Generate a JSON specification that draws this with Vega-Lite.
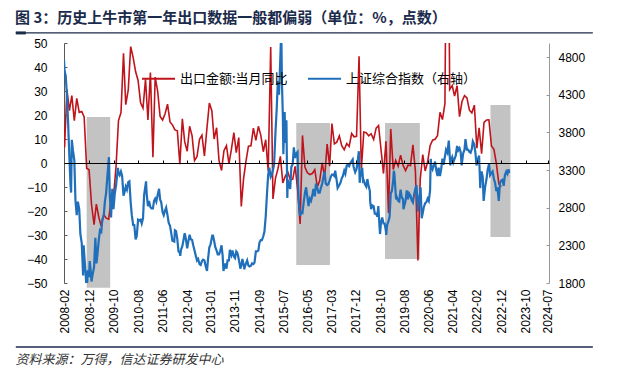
{
"$schema": "https://vega.github.io/schema/vega-lite/v6.json",
"width": 485,
"height": 240,
"autosize": {"type": "none"},
"padding": {"left": 64, "top": 43, "right": 86, "bottom": 89},
"background": "white",
"config": {"view": {"stroke": null}, "font": "Liberation Sans"},
"title": {"text": "图 3：历史上牛市第一年出口数据一般都偏弱（单位：%，点数）", "anchor": "start", "frame": "group", "font": "Noto Sans CJK SC", "fontSize": 15, "fontWeight": "bold", "color": "#1b2b4b", "dx": -49, "offset": 5},
"datasets": {
"bull": [
{"start": "2008-11-01", "end": "2009-08-20", "lo": -52, "hi": 19.2},
{"start": "2015-12-15", "end": "2017-02-05", "lo": -42.5, "hi": 16.7},
{"start": "2018-12-20", "end": "2020-02-25", "lo": -40, "hi": 16.7},
{"start": "2022-07-20", "end": "2023-03-25", "lo": -30.8, "hi": 24.2}
],
"exp": [
{"d":"2008-01-01","v":26.6},{"d":"2008-02-01","v":6.5},{"d":"2008-03-01","v":30.6},{"d":"2008-04-01","v":21.8},{"d":"2008-05-01","v":28.1},{"d":"2008-06-01","v":17.6},{"d":"2008-07-01","v":26.9},{"d":"2008-08-01","v":21.1},{"d":"2008-09-01","v":21.5},{"d":"2008-10-01","v":19.2},{"d":"2008-11-01","v":-2.2},{"d":"2008-12-01","v":-2.8},
{"d":"2009-01-01","v":-17.5},{"d":"2009-02-01","v":-25.7},{"d":"2009-03-01","v":-17.1},{"d":"2009-04-01","v":-22.6},{"d":"2009-05-01","v":-26.4},{"d":"2009-06-01","v":-21.4},{"d":"2009-07-01","v":-23.0},{"d":"2009-08-01","v":-23.4},{"d":"2009-09-01","v":-15.2},{"d":"2009-10-01","v":-13.8},{"d":"2009-11-01","v":-1.2},{"d":"2009-12-01","v":17.7},
{"d":"2010-01-01","v":21.0},{"d":"2010-02-01","v":45.7},{"d":"2010-03-01","v":24.3},{"d":"2010-04-01","v":30.5},{"d":"2010-05-01","v":48.5},{"d":"2010-06-01","v":43.9},{"d":"2010-07-01","v":38.1},{"d":"2010-08-01","v":34.4},{"d":"2010-09-01","v":25.1},{"d":"2010-10-01","v":22.9},{"d":"2010-11-01","v":34.9},{"d":"2010-12-01","v":17.9},
{"d":"2011-01-01","v":37.7},{"d":"2011-02-01","v":2.4},{"d":"2011-03-01","v":35.8},{"d":"2011-04-01","v":29.9},{"d":"2011-05-01","v":19.4},{"d":"2011-06-01","v":17.9},{"d":"2011-07-01","v":20.4},{"d":"2011-08-01","v":24.5},{"d":"2011-09-01","v":17.1},{"d":"2011-10-01","v":15.9},{"d":"2011-11-01","v":13.8},{"d":"2011-12-01","v":13.4},
{"d":"2012-01-01","v":-0.5},{"d":"2012-02-01","v":18.4},{"d":"2012-03-01","v":8.9},{"d":"2012-04-01","v":4.9},{"d":"2012-05-01","v":15.3},{"d":"2012-06-01","v":11.3},{"d":"2012-07-01","v":1.0},{"d":"2012-08-01","v":2.7},{"d":"2012-09-01","v":9.9},{"d":"2012-10-01","v":11.6},{"d":"2012-11-01","v":2.9},{"d":"2012-12-01","v":14.1},
{"d":"2013-01-01","v":25.0},{"d":"2013-02-01","v":21.8},{"d":"2013-03-01","v":10.0},{"d":"2013-04-01","v":14.7},{"d":"2013-05-01","v":1.0},{"d":"2013-06-01","v":-3.1},{"d":"2013-07-01","v":5.1},{"d":"2013-08-01","v":7.2},{"d":"2013-09-01","v":-0.3},{"d":"2013-10-01","v":5.6},{"d":"2013-11-01","v":12.7},{"d":"2013-12-01","v":4.3},
{"d":"2014-01-01","v":10.6},{"d":"2014-02-01","v":-18.1},{"d":"2014-03-01","v":-6.6},{"d":"2014-04-01","v":0.9},{"d":"2014-05-01","v":7.0},{"d":"2014-06-01","v":7.2},{"d":"2014-07-01","v":14.5},{"d":"2014-08-01","v":9.4},{"d":"2014-09-01","v":15.3},{"d":"2014-10-01","v":11.6},{"d":"2014-11-01","v":4.7},{"d":"2014-12-01","v":9.7},
{"d":"2015-01-01","v":-3.3},{"d":"2015-02-01","v":48.3},{"d":"2015-03-01","v":-15.0},{"d":"2015-04-01","v":-6.4},{"d":"2015-05-01","v":-2.5},{"d":"2015-06-01","v":2.8},{"d":"2015-07-01","v":-8.3},{"d":"2015-08-01","v":-5.5},{"d":"2015-09-01","v":-3.7},{"d":"2015-10-01","v":-6.9},{"d":"2015-11-01","v":-6.8},{"d":"2015-12-01","v":-1.4},
{"d":"2016-01-01","v":-11.2},{"d":"2016-02-01","v":-25.4},{"d":"2016-03-01","v":11.5},{"d":"2016-04-01","v":-1.8},{"d":"2016-05-01","v":-4.1},{"d":"2016-06-01","v":-4.8},{"d":"2016-07-01","v":-4.4},{"d":"2016-08-01","v":-2.8},{"d":"2016-09-01","v":-10.0},{"d":"2016-10-01","v":-7.3},{"d":"2016-11-01","v":0.1},{"d":"2016-12-01","v":-6.1},
{"d":"2017-01-01","v":7.9},{"d":"2017-02-01","v":-1.3},{"d":"2017-03-01","v":16.4},{"d":"2017-04-01","v":8.0},{"d":"2017-05-01","v":8.7},{"d":"2017-06-01","v":11.3},{"d":"2017-07-01","v":7.2},{"d":"2017-08-01","v":5.5},{"d":"2017-09-01","v":8.1},{"d":"2017-10-01","v":6.9},{"d":"2017-11-01","v":12.3},{"d":"2017-12-01","v":10.9},
{"d":"2018-01-01","v":11.1},{"d":"2018-02-01","v":44.5},{"d":"2018-03-01","v":-2.7},{"d":"2018-04-01","v":12.9},{"d":"2018-05-01","v":12.6},{"d":"2018-06-01","v":11.3},{"d":"2018-07-01","v":12.2},{"d":"2018-08-01","v":9.8},{"d":"2018-09-01","v":14.5},{"d":"2018-10-01","v":15.6},{"d":"2018-11-01","v":5.4},{"d":"2018-12-01","v":-4.4},
{"d":"2019-01-01","v":9.1},{"d":"2019-02-01","v":-20.8},{"d":"2019-03-01","v":14.2},{"d":"2019-04-01","v":-2.7},{"d":"2019-05-01","v":1.1},{"d":"2019-06-01","v":-1.3},{"d":"2019-07-01","v":3.3},{"d":"2019-08-01","v":-1.0},{"d":"2019-09-01","v":-3.2},{"d":"2019-10-01","v":-0.9},{"d":"2019-11-01","v":-1.1},{"d":"2019-12-01","v":7.6},
{"d":"2020-01-01","v":-3.5},{"d":"2020-02-01","v":-40.6},{"d":"2020-03-01","v":-6.6},{"d":"2020-04-01","v":3.5},{"d":"2020-05-01","v":-3.3},{"d":"2020-06-01","v":0.5},{"d":"2020-07-01","v":7.2},{"d":"2020-08-01","v":9.5},{"d":"2020-09-01","v":9.9},{"d":"2020-10-01","v":11.4},{"d":"2020-11-01","v":21.1},{"d":"2020-12-01","v":18.1},
{"d":"2021-01-01","v":24.7},{"d":"2021-02-01","v":154.9},{"d":"2021-03-01","v":30.6},{"d":"2021-04-01","v":32.3},{"d":"2021-05-01","v":27.9},{"d":"2021-06-01","v":32.2},{"d":"2021-07-01","v":19.3},{"d":"2021-08-01","v":25.6},{"d":"2021-09-01","v":28.1},{"d":"2021-10-01","v":27.1},{"d":"2021-11-01","v":22.0},{"d":"2021-12-01","v":20.9},
{"d":"2022-01-01","v":24.1},{"d":"2022-02-01","v":6.2},{"d":"2022-03-01","v":14.7},{"d":"2022-04-01","v":3.9},{"d":"2022-05-01","v":16.9},{"d":"2022-06-01","v":17.9},{"d":"2022-07-01","v":18.0},{"d":"2022-08-01","v":7.1},{"d":"2022-09-01","v":5.7},{"d":"2022-10-01","v":-0.3},{"d":"2022-11-01","v":-8.7},{"d":"2022-12-01","v":-9.9}
],
"sse": [
{"d":"2008-01-25","v":4760},{"d":"2008-02-01","v":4620},{"d":"2008-02-15","v":4550},{"d":"2008-03-01","v":4300},{"d":"2008-03-15","v":3950},{"d":"2008-04-01","v":3470},{"d":"2008-04-15","v":3100},{"d":"2008-04-22","v":3000},{"d":"2008-05-01","v":3700},{"d":"2008-05-15","v":3560},{"d":"2008-06-01","v":3430},{"d":"2008-06-15","v":2900},{"d":"2008-07-01","v":2700},{"d":"2008-07-15","v":2880},{"d":"2008-08-01","v":2780},{"d":"2008-08-15","v":2450},{"d":"2008-09-01","v":2330},{"d":"2008-09-18","v":1900},{"d":"2008-09-25","v":2300},{"d":"2008-10-08","v":2090},{"d":"2008-10-15","v":1990},{"d":"2008-10-28","v":1770},{"d":"2008-11-04","v":1720},{"d":"2008-11-15","v":1970},{"d":"2008-12-01","v":1880},{"d":"2008-12-09","v":2090},{"d":"2008-12-20","v":1980},{"d":"2008-12-31","v":1820},
{"d":"2009-01-15","v":1920},{"d":"2009-02-01","v":2010},{"d":"2009-02-17","v":2400},{"d":"2009-03-03","v":2060},{"d":"2009-03-15","v":2180},{"d":"2009-04-01","v":2380},{"d":"2009-04-15","v":2500},{"d":"2009-05-01","v":2480},{"d":"2009-05-15","v":2650},{"d":"2009-06-01","v":2690},{"d":"2009-06-15","v":2880},{"d":"2009-07-01","v":3000},{"d":"2009-07-15","v":3200},{"d":"2009-08-04","v":3470},{"d":"2009-08-15","v":2980},{"d":"2009-08-31","v":2670},{"d":"2009-09-15","v":3050},{"d":"2009-09-30","v":2780},{"d":"2009-10-15","v":2980},{"d":"2009-11-01","v":3100},{"d":"2009-11-24","v":3330},{"d":"2009-12-01","v":3260},{"d":"2009-12-15","v":3230},{"d":"2009-12-31","v":3280},
{"d":"2010-01-15","v":3220},{"d":"2010-02-01","v":2960},{"d":"2010-02-15","v":3010},{"d":"2010-03-01","v":3080},{"d":"2010-03-15","v":3040},{"d":"2010-04-01","v":3140},{"d":"2010-04-15","v":3150},{"d":"2010-05-01","v":2870},{"d":"2010-05-15","v":2700},{"d":"2010-06-01","v":2570},{"d":"2010-06-15","v":2570},{"d":"2010-07-01","v":2380},{"d":"2010-07-15","v":2420},{"d":"2010-08-01","v":2640},{"d":"2010-08-15","v":2630},{"d":"2010-09-01","v":2640},{"d":"2010-09-15","v":2590},{"d":"2010-10-01","v":2660},{"d":"2010-10-15","v":2970},{"d":"2010-11-08","v":3150},{"d":"2010-11-15","v":2990},{"d":"2010-12-01","v":2820},{"d":"2010-12-15","v":2890},{"d":"2010-12-31","v":2810},
{"d":"2011-01-15","v":2790},{"d":"2011-02-01","v":2790},{"d":"2011-02-15","v":2890},{"d":"2011-03-01","v":2920},{"d":"2011-03-15","v":2880},{"d":"2011-04-01","v":2970},{"d":"2011-04-18","v":3050},{"d":"2011-05-01","v":2910},{"d":"2011-05-15","v":2870},{"d":"2011-06-01","v":2740},{"d":"2011-06-15","v":2700},{"d":"2011-07-01","v":2760},{"d":"2011-07-15","v":2800},{"d":"2011-08-01","v":2700},{"d":"2011-08-15","v":2600},{"d":"2011-09-01","v":2560},{"d":"2011-09-15","v":2470},{"d":"2011-10-01","v":2360},{"d":"2011-10-24","v":2350},{"d":"2011-11-01","v":2500},{"d":"2011-11-15","v":2490},{"d":"2011-12-01","v":2380},{"d":"2011-12-15","v":2220},{"d":"2011-12-31","v":2200},
{"d":"2012-01-06","v":2160},{"d":"2012-01-15","v":2240},{"d":"2012-02-01","v":2290},{"d":"2012-02-15","v":2370},{"d":"2012-03-01","v":2460},{"d":"2012-03-15","v":2390},{"d":"2012-04-01","v":2260},{"d":"2012-04-15","v":2350},{"d":"2012-05-01","v":2440},{"d":"2012-05-15","v":2380},{"d":"2012-06-01","v":2370},{"d":"2012-06-15","v":2300},{"d":"2012-07-01","v":2230},{"d":"2012-07-15","v":2170},{"d":"2012-08-01","v":2100},{"d":"2012-08-15","v":2120},{"d":"2012-09-01","v":2050},{"d":"2012-09-15","v":2040},{"d":"2012-10-01","v":2090},{"d":"2012-10-15","v":2110},{"d":"2012-11-01","v":2100},{"d":"2012-11-15","v":2030},{"d":"2012-12-03","v":1960},{"d":"2012-12-15","v":2110},{"d":"2012-12-31","v":2270},
{"d":"2013-01-15","v":2310},{"d":"2013-02-06","v":2430},{"d":"2013-02-15","v":2430},{"d":"2013-03-01","v":2360},{"d":"2013-03-15","v":2280},{"d":"2013-04-01","v":2230},{"d":"2013-04-15","v":2180},{"d":"2013-05-01","v":2180},{"d":"2013-05-15","v":2220},{"d":"2013-06-01","v":2300},{"d":"2013-06-15","v":2160},{"d":"2013-06-25","v":1960},{"d":"2013-07-01","v":1990},{"d":"2013-07-15","v":2060},{"d":"2013-08-01","v":1990},{"d":"2013-08-15","v":2100},{"d":"2013-09-01","v":2100},{"d":"2013-09-12","v":2240},{"d":"2013-10-01","v":2170},{"d":"2013-10-15","v":2230},{"d":"2013-11-01","v":2150},{"d":"2013-11-15","v":2130},{"d":"2013-12-01","v":2220},{"d":"2013-12-15","v":2200},{"d":"2013-12-31","v":2120},
{"d":"2014-01-15","v":2030},{"d":"2014-01-20","v":1990},{"d":"2014-02-01","v":2030},{"d":"2014-02-15","v":2120},{"d":"2014-03-01","v":2050},{"d":"2014-03-12","v":1980},{"d":"2014-03-15","v":2010},{"d":"2014-04-01","v":2060},{"d":"2014-04-15","v":2100},{"d":"2014-05-01","v":2030},{"d":"2014-05-15","v":2020},{"d":"2014-06-01","v":2030},{"d":"2014-06-15","v":2060},{"d":"2014-07-01","v":2050},{"d":"2014-07-15","v":2070},{"d":"2014-08-01","v":2220},{"d":"2014-08-15","v":2220},{"d":"2014-09-01","v":2230},{"d":"2014-09-15","v":2340},{"d":"2014-10-01","v":2370},{"d":"2014-10-15","v":2370},{"d":"2014-11-01","v":2420},{"d":"2014-11-15","v":2480},{"d":"2014-12-01","v":2680},{"d":"2014-12-15","v":2950},{"d":"2014-12-31","v":3230},
{"d":"2015-01-15","v":3330},{"d":"2015-02-01","v":3210},{"d":"2015-02-15","v":3240},{"d":"2015-03-01","v":3300},{"d":"2015-03-15","v":3370},{"d":"2015-04-01","v":3800},{"d":"2015-04-15","v":4080},{"d":"2015-05-01","v":4480},{"d":"2015-05-15","v":4300},{"d":"2015-06-01","v":4800},{"d":"2015-06-12","v":5170},{"d":"2015-06-20","v":4480},{"d":"2015-07-01","v":4050},{"d":"2015-07-08","v":3510},{"d":"2015-07-15","v":3800},{"d":"2015-07-24","v":4070},{"d":"2015-08-01","v":3660},{"d":"2015-08-15","v":3960},{"d":"2015-08-26","v":2930},{"d":"2015-09-01","v":3170},{"d":"2015-09-15","v":3100},{"d":"2015-10-01","v":3050},{"d":"2015-10-15","v":3340},{"d":"2015-11-01","v":3380},{"d":"2015-11-15","v":3600},{"d":"2015-12-01","v":3460},{"d":"2015-12-15","v":3520},{"d":"2015-12-31","v":3540},
{"d":"2016-01-07","v":3120},{"d":"2016-01-15","v":2900},{"d":"2016-01-27","v":2740},{"d":"2016-02-01","v":2690},{"d":"2016-02-15","v":2740},{"d":"2016-03-01","v":2730},{"d":"2016-03-15","v":2860},{"d":"2016-04-01","v":3000},{"d":"2016-04-15","v":3070},{"d":"2016-05-01","v":2940},{"d":"2016-05-15","v":2820},{"d":"2016-06-01","v":2920},{"d":"2016-06-15","v":2890},{"d":"2016-07-01","v":2960},{"d":"2016-07-15","v":3050},{"d":"2016-08-01","v":2950},{"d":"2016-08-15","v":3120},{"d":"2016-09-01","v":3060},{"d":"2016-09-15","v":3000},{"d":"2016-10-01","v":3000},{"d":"2016-10-15","v":3060},{"d":"2016-11-01","v":3120},{"d":"2016-11-15","v":3200},{"d":"2016-11-29","v":3280},{"d":"2016-12-15","v":3120},{"d":"2016-12-31","v":3100},
{"d":"2017-01-15","v":3110},{"d":"2017-02-01","v":3160},{"d":"2017-02-15","v":3210},{"d":"2017-03-01","v":3240},{"d":"2017-03-15","v":3240},{"d":"2017-04-01","v":3220},{"d":"2017-04-11","v":3290},{"d":"2017-05-01","v":3150},{"d":"2017-05-11","v":3060},{"d":"2017-06-01","v":3100},{"d":"2017-06-15","v":3130},{"d":"2017-07-01","v":3190},{"d":"2017-07-15","v":3220},{"d":"2017-08-01","v":3290},{"d":"2017-08-15","v":3250},{"d":"2017-09-01","v":3360},{"d":"2017-09-15","v":3370},{"d":"2017-10-01","v":3350},{"d":"2017-10-15","v":3390},{"d":"2017-11-14","v":3440},{"d":"2017-11-24","v":3350},{"d":"2017-12-01","v":3320},{"d":"2017-12-15","v":3270},{"d":"2017-12-31","v":3310},
{"d":"2018-01-15","v":3410},{"d":"2018-01-29","v":3550},{"d":"2018-02-09","v":3130},{"d":"2018-02-15","v":3200},{"d":"2018-03-01","v":3270},{"d":"2018-03-12","v":3330},{"d":"2018-03-23","v":3150},{"d":"2018-04-01","v":3160},{"d":"2018-04-15","v":3110},{"d":"2018-05-01","v":3080},{"d":"2018-05-15","v":3180},{"d":"2018-06-01","v":3080},{"d":"2018-06-15","v":3020},{"d":"2018-06-19","v":2880},{"d":"2018-07-01","v":2780},{"d":"2018-07-15","v":2830},{"d":"2018-08-01","v":2820},{"d":"2018-08-15","v":2720},{"d":"2018-09-01","v":2720},{"d":"2018-09-15","v":2680},{"d":"2018-09-28","v":2820},{"d":"2018-10-11","v":2580},{"d":"2018-10-19","v":2450},{"d":"2018-10-31","v":2600},{"d":"2018-11-15","v":2670},{"d":"2018-12-01","v":2590},{"d":"2018-12-15","v":2590},{"d":"2018-12-31","v":2490},
{"d":"2019-01-04","v":2440},{"d":"2019-01-15","v":2570},{"d":"2019-02-01","v":2620},{"d":"2019-02-15","v":2680},{"d":"2019-03-01","v":2990},{"d":"2019-03-15","v":3020},{"d":"2019-04-01","v":3170},{"d":"2019-04-08","v":3290},{"d":"2019-04-15","v":3250},{"d":"2019-05-06","v":2910},{"d":"2019-05-15","v":2940},{"d":"2019-06-01","v":2890},{"d":"2019-06-15","v":2880},{"d":"2019-07-01","v":3040},{"d":"2019-07-15","v":2940},{"d":"2019-08-01","v":2910},{"d":"2019-08-06","v":2780},{"d":"2019-08-15","v":2820},{"d":"2019-09-01","v":2890},{"d":"2019-09-15","v":3030},{"d":"2019-10-01","v":2910},{"d":"2019-10-15","v":2990},{"d":"2019-11-01","v":2960},{"d":"2019-11-15","v":2900},{"d":"2019-12-01","v":2870},{"d":"2019-12-15","v":2970},{"d":"2019-12-31","v":3050},
{"d":"2020-01-14","v":3100},{"d":"2020-02-03","v":2750},{"d":"2020-02-15","v":2920},{"d":"2020-03-01","v":3010},{"d":"2020-03-05","v":3070},{"d":"2020-03-19","v":2660},{"d":"2020-04-01","v":2730},{"d":"2020-04-15","v":2810},{"d":"2020-05-01","v":2860},{"d":"2020-05-15","v":2870},{"d":"2020-06-01","v":2920},{"d":"2020-06-15","v":2890},{"d":"2020-07-01","v":3030},{"d":"2020-07-09","v":3450},{"d":"2020-07-15","v":3360},{"d":"2020-08-01","v":3310},{"d":"2020-08-15","v":3360},{"d":"2020-09-01","v":3410},{"d":"2020-09-15","v":3300},{"d":"2020-10-01","v":3220},{"d":"2020-10-15","v":3330},{"d":"2020-11-01","v":3220},{"d":"2020-11-15","v":3310},{"d":"2020-12-01","v":3450},{"d":"2020-12-15","v":3370},{"d":"2020-12-31","v":3470},
{"d":"2021-01-15","v":3570},{"d":"2021-02-01","v":3530},{"d":"2021-02-18","v":3690},{"d":"2021-03-09","v":3360},{"d":"2021-03-15","v":3420},{"d":"2021-04-01","v":3470},{"d":"2021-04-15","v":3400},{"d":"2021-05-01","v":3450},{"d":"2021-05-15","v":3490},{"d":"2021-06-01","v":3620},{"d":"2021-06-15","v":3560},{"d":"2021-07-01","v":3590},{"d":"2021-07-15","v":3540},{"d":"2021-07-28","v":3360},{"d":"2021-08-15","v":3520},{"d":"2021-09-01","v":3570},{"d":"2021-09-13","v":3710},{"d":"2021-10-01","v":3570},{"d":"2021-10-15","v":3570},{"d":"2021-11-01","v":3540},{"d":"2021-11-15","v":3530},{"d":"2021-12-01","v":3580},{"d":"2021-12-13","v":3680},{"d":"2021-12-31","v":3640},
{"d":"2022-01-15","v":3520},{"d":"2022-01-28","v":3360},{"d":"2022-02-15","v":3450},{"d":"2022-03-01","v":3490},{"d":"2022-03-15","v":3060},{"d":"2022-03-24","v":3250},{"d":"2022-04-01","v":3280},{"d":"2022-04-15","v":3210},{"d":"2022-04-26","v":2890},{"d":"2022-05-15","v":3080},{"d":"2022-06-01","v":3180},{"d":"2022-06-15","v":3300},{"d":"2022-07-04","v":3390},{"d":"2022-07-15","v":3230},{"d":"2022-08-01","v":3260},{"d":"2022-08-15","v":3280},{"d":"2022-09-01","v":3180},{"d":"2022-09-15","v":3130},{"d":"2022-10-01","v":3020},{"d":"2022-10-14","v":3070},{"d":"2022-10-31","v":2890},{"d":"2022-11-15","v":3130},{"d":"2022-12-01","v":3160},{"d":"2022-12-15","v":3170},{"d":"2022-12-31","v":3090},
{"d":"2023-01-15","v":3230},{"d":"2023-02-01","v":3280},{"d":"2023-02-15","v":3250},{"d":"2023-03-01","v":3310},{"d":"2023-03-10","v":3260}
]
},
"layer": [
{
"data": {"name": "bull"},
"mark": {"type": "rect", "color": "#c3c3c3"},
"encoding": {
"x": {"field": "start", "type": "temporal", "scale": {"type": "utc", "domain": [{"year": 2008, "month": 1, "date": 25, "utc": true}, {"year": 2024, "month": 7, "date": 15, "utc": true}]},
"axis": {"orient": "bottom", "title": null, "domain": false, "ticks": false, "grid": false, "format": "%Y-%m", "labelAngle": -90, "labelPadding": 6, "labelFontSize": 12, "labelColor": "#000", "labelFont": "Liberation Sans", "labelFlush": false, "labelOverlap": false,
"values": [{"year":2008,"month":2,"date":1,"utc":true},{"year":2008,"month":12,"date":1,"utc":true},{"year":2009,"month":10,"date":1,"utc":true},{"year":2010,"month":8,"date":1,"utc":true},{"year":2011,"month":6,"date":1,"utc":true},{"year":2012,"month":4,"date":1,"utc":true},{"year":2013,"month":1,"date":20,"utc":true},{"year":2013,"month":11,"date":15,"utc":true},{"year":2014,"month":9,"date":10,"utc":true},{"year":2015,"month":7,"date":5,"utc":true},{"year":2016,"month":5,"date":1,"utc":true},{"year":2017,"month":3,"date":1,"utc":true},{"year":2017,"month":12,"date":25,"utc":true},{"year":2018,"month":10,"date":20,"utc":true},{"year":2019,"month":8,"date":15,"utc":true},{"year":2020,"month":6,"date":10,"utc":true},{"year":2021,"month":4,"date":5,"utc":true},{"year":2022,"month":2,"date":1,"utc":true},{"year":2022,"month":12,"date":1,"utc":true},{"year":2023,"month":10,"date":1,"utc":true},{"year":2024,"month":7,"date":1,"utc":true}]}},
"x2": {"field": "end"},
"y": {"field": "lo", "type": "quantitative", "scale": {"domain": [-50, 50], "nice": false, "zero": false},
"axis": {"orient": "left", "title": null, "grid": false, "values": [-50,-40,-30,-20,-10,0,10,20,30,40,50], "domainColor": "#595959", "tickColor": "#595959", "tickSize": -3, "labelPadding": 20, "labelFontSize": 12, "labelColor": "#000", "labelFont": "Liberation Sans"}},
"y2": {"field": "hi"}
}
},
{
"data": {"name": "exp"},
"mark": {"type": "line", "strokeWidth": 1.6, "clip": true},
"encoding": {
"x": {"field": "d", "type": "temporal", "scale": {"type": "utc", "domain": [{"year": 2008, "month": 1, "date": 25, "utc": true}, {"year": 2024, "month": 7, "date": 15, "utc": true}]},
"axis": {"orient": "bottom", "offset": -120, "title": null, "labels": false, "grid": false, "domain": true, "domainColor": "#000", "domainWidth": 1, "ticks": true, "tickSize": -3, "tickColor": "#000", "zindex": 1,
"values": [{"year":2008,"month":12,"date":1,"utc":true},{"year":2009,"month":10,"date":1,"utc":true},{"year":2010,"month":8,"date":1,"utc":true},{"year":2011,"month":6,"date":1,"utc":true},{"year":2012,"month":4,"date":1,"utc":true},{"year":2013,"month":1,"date":20,"utc":true},{"year":2013,"month":11,"date":15,"utc":true},{"year":2014,"month":9,"date":10,"utc":true},{"year":2015,"month":7,"date":5,"utc":true},{"year":2016,"month":5,"date":1,"utc":true},{"year":2017,"month":3,"date":1,"utc":true},{"year":2017,"month":12,"date":25,"utc":true},{"year":2018,"month":10,"date":20,"utc":true},{"year":2019,"month":8,"date":15,"utc":true},{"year":2020,"month":6,"date":10,"utc":true},{"year":2021,"month":4,"date":5,"utc":true},{"year":2022,"month":2,"date":1,"utc":true},{"year":2022,"month":12,"date":1,"utc":true},{"year":2023,"month":10,"date":1,"utc":true},{"year":2024,"month":7,"date":1,"utc":true}]}},
"y": {"field": "v", "type": "quantitative", "scale": {"domain": [-50, 50], "nice": false, "zero": false}, "axis": null},
"color": {"datum": "出口金额:当月同比", "type": "nominal",
"scale": {"domain": ["出口金额:当月同比", "上证综合指数（右轴）"], "range": ["#c0141c", "#1f6fba"]},
"legend": {"orient": "none", "legendX": 77, "legendY": 18, "direction": "horizontal", "title": null, "symbolType": "stroke", "symbolSize": 1089, "symbolStrokeWidth": 2, "labelFont": "Noto Sans CJK SC", "labelFontSize": 13, "labelColor": "#000", "columnPadding": 16, "labelOffset": 4, "labelLimit": 300}}
}
},
{
"data": {"name": "sse"},
"mark": {"type": "line", "strokeWidth": 2.2, "clip": true},
"encoding": {
"x": {"field": "d", "type": "temporal", "scale": {"type": "utc", "domain": [{"year": 2008, "month": 1, "date": 25, "utc": true}, {"year": 2024, "month": 7, "date": 15, "utc": true}]},
"axis": {"orient": "top", "offset": 10, "title": null, "labels": false, "ticks": false, "grid": false, "domain": false}},
"y": {"field": "v", "type": "quantitative", "scale": {"domain": [1800, 4986], "nice": false, "zero": false},
"axis": {"orient": "right", "title": null, "grid": false, "format": "d", "values": [1800,2300,2800,3300,3800,4300,4800], "domainColor": "#999999", "tickColor": "#999999", "tickSize": -3, "labelPadding": 12, "labelFontSize": 12, "labelColor": "#000", "labelFont": "Liberation Sans"}},
"color": {"datum": "上证综合指数（右轴）", "type": "nominal"}
}
},
{
"data": {"name": "bull"},
"mark": {"type": "rule", "opacity": 0},
"encoding": {
"x": {"field": "start", "type": "temporal", "scale": {"type": "utc", "domain": [{"year": 2008, "month": 1, "date": 25, "utc": true}, {"year": 2024, "month": 7, "date": 15, "utc": true}]},
"axis": {"orient": "bottom", "offset": 64, "labels": false, "ticks": false, "grid": false, "domain": false,
"title": "资料来源：万得，信达证券研发中心", "titleFont": "Noto Sans CJK SC", "titleFontSize": 13, "titleFontStyle": "italic", "titleFontWeight": "normal", "titleColor": "#333333", "titleAnchor": "start", "titleAlign": "left", "titleX": -49, "titleY": 12, "titleBaseline": "middle"}}
}
},
{
"data": {"values": [{}]},
"mark": {"type": "rule", "color": "#1b2b4b", "strokeWidth": 1.3, "clip": false},
"encoding": {
"x": {"datum": {"year": 2006, "month": 6, "date": 6, "utc": true}, "type": "temporal", "scale": {"type": "utc", "domain": [{"year": 2008, "month": 1, "date": 25, "utc": true}, {"year": 2024, "month": 7, "date": 15, "utc": true}]}, "axis": null},
"x2": {"datum": {"year": 2026, "month": 1, "date": 10, "utc": true}},
"y": {"datum": 54.2, "type": "quantitative", "scale": {"domain": [-50, 50], "nice": false, "zero": false}, "axis": null}
}
},
{
"data": {"values": [{}]},
"mark": {"type": "rule", "color": "#1b2b4b", "strokeWidth": 3, "clip": false},
"encoding": {
"x": {"datum": {"year": 2006, "month": 6, "date": 6, "utc": true}, "type": "temporal", "scale": {"type": "utc", "domain": [{"year": 2008, "month": 1, "date": 25, "utc": true}, {"year": 2024, "month": 7, "date": 15, "utc": true}]}, "axis": null},
"x2": {"datum": {"year": 2006, "month": 10, "date": 8, "utc": true}},
"y": {"datum": 54.2, "type": "quantitative", "scale": {"domain": [-50, 50], "nice": false, "zero": false}, "axis": null}
}
},
{
"data": {"values": [{}]},
"mark": {"type": "rule", "color": "#1b2b4b", "strokeWidth": 1.6, "clip": false},
"encoding": {
"x": {"datum": {"year": 2006, "month": 6, "date": 6, "utc": true}, "type": "temporal", "scale": {"type": "utc", "domain": [{"year": 2008, "month": 1, "date": 25, "utc": true}, {"year": 2024, "month": 7, "date": 15, "utc": true}]}, "axis": null},
"x2": {"datum": {"year": 2026, "month": 1, "date": 10, "utc": true}},
"y": {"datum": -76.67, "type": "quantitative", "scale": {"domain": [-50, 50], "nice": false, "zero": false}, "axis": null}
}
}
],
"resolve": {"scale": {"y": "independent"}, "axis": {"x": "independent", "y": "independent"}}
}
